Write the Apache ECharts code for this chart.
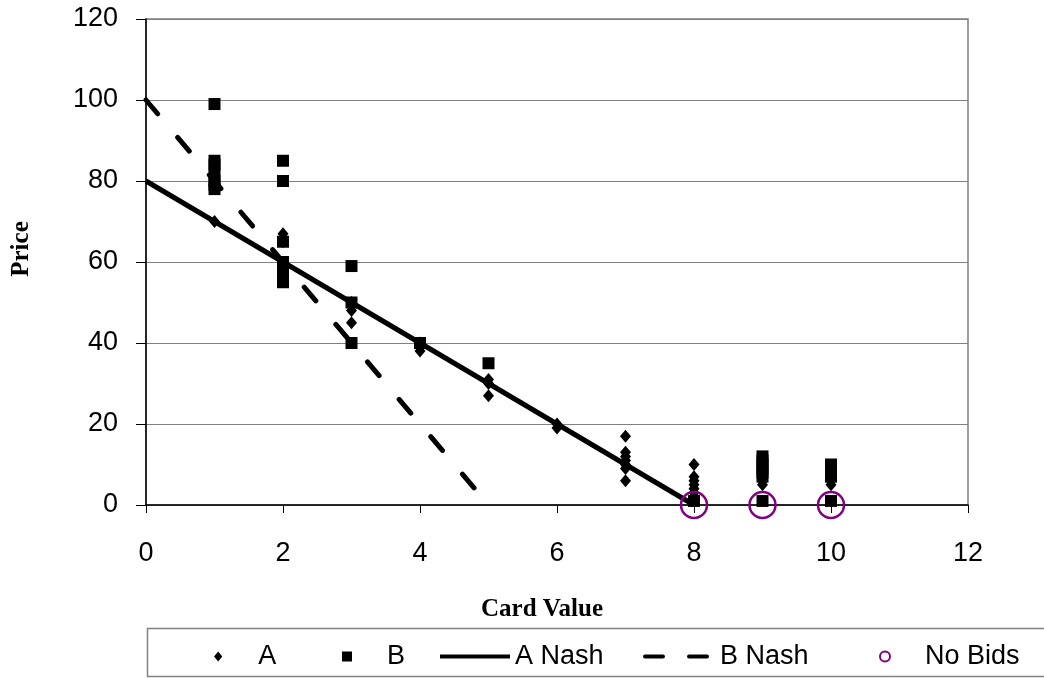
<!DOCTYPE html>
<html>
<head>
<meta charset="utf-8">
<script src="https://cdn.jsdelivr.net/npm/echarts@6/dist/echarts.min.js"></script>
<style>
  html, body { margin: 0; padding: 0; background: #fff; }
  #chart { width: 1044px; height: 678px; }
</style>
</head>
<body>
<div id="chart"></div>
<script>
// bids of type A (diamonds)
const aCard  = [1, 1, 1, 2, 2, 3, 3, 3, 4, 4, 5, 5, 5, 6, 6, 7, 7, 7, 7, 7, 7, 7, 8, 8, 8, 8, 8, 8, 8, 9, 9, 10, 10];
const aPrice = [82, 80, 70, 67, 65, 50, 48, 45, 40, 38, 31, 30, 27, 20, 19, 17, 13, 12, 11, 10, 9, 6, 10, 7, 6, 5, 4, 3, 2, 6, 5, 6, 5];
// bids of type B (squares)
const bCard  = [1, 1, 1, 1, 1, 1, 1, 2, 2, 2, 2, 2, 2, 2, 3, 3, 3, 4, 5, 8, 9, 9, 9, 9, 9, 9, 9, 10, 10, 10, 10, 10];
const bPrice = [99, 85, 84, 82, 80, 79, 78, 85, 80, 65, 60, 58, 57, 55, 59, 50, 40, 40, 35, 1, 12, 11, 10, 9, 8, 7, 1, 10, 9, 8, 7, 1];
// equilibrium lines
const aNashCard  = [0, 8];
const aNashPrice = [80, 0];
const bNashCard  = [0, 5];
const bNashPrice = [100, 0];
// card values with no bids
const noBidCard  = [8, 9, 10];
const noBidPrice = [0, 0, 0];

const zip = (xs, ys) => xs.map((x, i) => [x, ys[i]]);

const sans = "'Liberation Sans', Arial, sans-serif";
const serif = "'Liberation Serif', 'Times New Roman', serif";
const noDot = { color: "transparent", borderWidth: 0 };

// one legend box per entry so each sits where the original has it
function legendAt(left, item) {
  return {
    left: left, top: 643, padding: 0,
    itemWidth: 70, itemHeight: 10, symbolKeepAspect: true,
    textStyle: { color: "#000", fontSize: 27, fontFamily: sans },
    data: [item]
  };
}

const myChart = echarts.init(document.getElementById("chart"));
myChart.setOption({
  animation: false,
  backgroundColor: "#fff",
  grid: {
    left: 146, right: 76, top: 19, bottom: 173,
    show: true, borderColor: "#808080", borderWidth: 1.5
  },
  xAxis: {
    type: "value", min: 0, max: 12, interval: 2,
    axisLine: { show: true, onZero: false, lineStyle: { color: "#000", width: 1.5 } },
    axisTick: { show: true, length: 8, lineStyle: { color: "#000" } },
    axisLabel: { color: "#000", fontSize: 27, fontFamily: sans, margin: 35 },
    splitLine: { show: false }
  },
  yAxis: {
    type: "value", min: 0, max: 120, interval: 20,
    axisLine: { show: true, lineStyle: { color: "#000", width: 1.5 } },
    axisTick: { show: true, length: 10, lineStyle: { color: "#000" } },
    axisLabel: { color: "#000", fontSize: 27, fontFamily: sans, margin: 28 },
    splitLine: { show: true, lineStyle: { color: "#808080", width: 1.2 } }
  },
  legend: [
    legendAt(214, { name: "A", icon: "path://M0,-6L5,0L0,6L-5,0Z" }),
    legendAt(342, { name: "B", icon: "path://M0,0H1V1H0Z" }),
    legendAt(438, { name: "A Nash", itemStyle: noDot, lineStyle: { width: 4, color: "#000" } }),
    legendAt(643, { name: "B Nash", itemStyle: noDot,
                    lineStyle: { width: 4, color: "#000", type: [18, 26], cap: "round" } }),
    legendAt(879, { name: "No Bids" })
  ],
  graphic: [
    {
      type: "rect", silent: true,
      shape: { x: 147.5, y: 628.5, width: 950, height: 48 },
      style: { fill: "none", stroke: "#808080", lineWidth: 1.5 }
    },
    {
      type: "text", silent: true, x: 542, y: 610,
      style: { text: "Card Value", fontFamily: serif, fontWeight: "bold", fontSize: 25,
               fill: "#000", align: "center", verticalAlign: "middle" }
    },
    {
      type: "text", silent: true, x: 22, y: 249, rotation: Math.PI / 2,
      style: { text: "Price", fontFamily: serif, fontWeight: "bold", fontSize: 25,
               fill: "#000", align: "center", verticalAlign: "middle" }
    }
  ],
  series: [
    {
      name: "A", type: "scatter", symbol: "diamond", symbolSize: [11, 13],
      itemStyle: { color: "#000", opacity: 1 },
      data: zip(aCard, aPrice)
    },
    {
      name: "B", type: "scatter", symbol: "rect", symbolSize: 12,
      itemStyle: { color: "#000", opacity: 1 },
      data: zip(bCard, bPrice)
    },
    {
      name: "A Nash", type: "line", symbol: "none",
      lineStyle: { color: "#000", width: 5 },
      itemStyle: { color: "#000" },
      data: zip(aNashCard, aNashPrice)
    },
    {
      name: "B Nash", type: "line", symbol: "none",
      lineStyle: { color: "#000", width: 5, type: [18, 31], cap: "round" },
      itemStyle: { color: "#000" },
      data: zip(bNashCard, bNashPrice)
    },
    {
      name: "No Bids", type: "scatter", symbol: "circle", symbolSize: 26,
      itemStyle: { color: "transparent", borderColor: "#800080", borderWidth: 2.5, opacity: 1 },
      z: 5,
      data: zip(noBidCard, noBidPrice)
    }
  ]
});
</script>
</body>
</html>
